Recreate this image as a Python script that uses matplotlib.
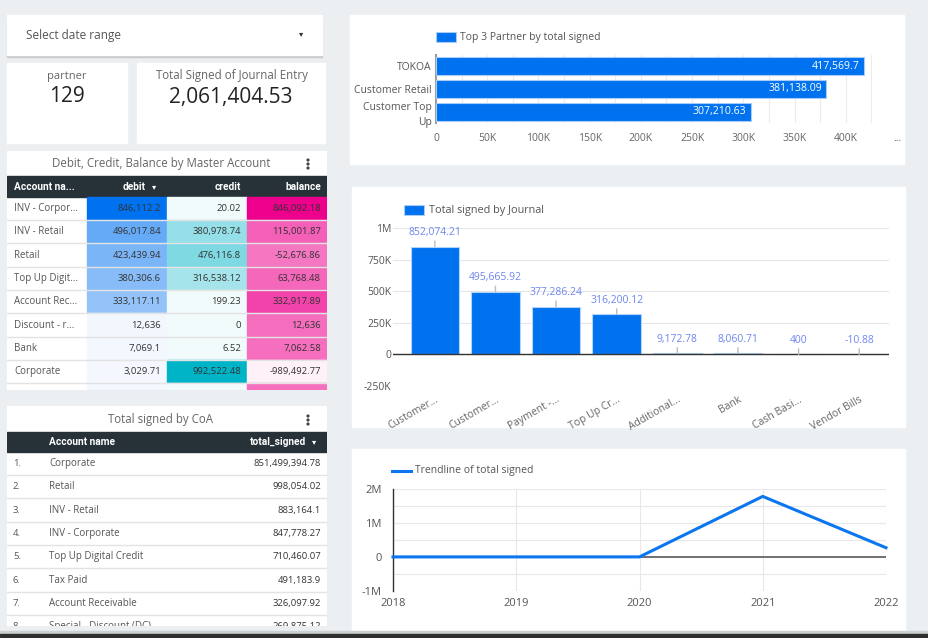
import matplotlib
matplotlib.use("Agg")
import matplotlib.pyplot as plt
from matplotlib.patches import Rectangle, Circle
from matplotlib.colors import LinearSegmentedColormap, Normalize
from matplotlib.ticker import MultipleLocator

plt.rcParams['font.family'] = ['Open Sans', 'DejaVu Sans']

# ---- data ----
partner_count = 129
total_signed = 2061404.53

partners = ["TOKOA", "Customer Retail", "Customer Top\nUp"]
partner_vals = [417569.7, 381138.09, 307210.63]

journals = ["Customer...", "Customer...", "Payment -...", "Top Up Cr...",
            "Additional...", "Bank", "Cash Basi...", "Vendor Bills"]
journal_vals = [852074.21, 495665.92, 377286.24, 316200.12,
                9172.78, 8060.71, 400, -10.88]

years = [2018, 2019, 2020, 2021, 2022]
year_vals = [0, 0, 400, 1790000, 271000]

acct_names = ["INV - Corpor...", "INV - Retail", "Retail", "Top Up Digit...",
              "Account Rec...", "Discount - r...", "Bank", "Corporate", "..."]
debit = [846112.2, 496017.84, 423439.94, 380306.6, 333117.11, 12636, 7069.1, 3029.71, 1000]
credit = [20.02, 380978.74, 476116.8, 316538.12, 199.23, 0, 6.52, 992522.48, 0]
balance = [846092.18, 115001.87, -52676.86, 63768.48, 332917.89, 12636, 7062.58, -989492.77, 1000]

coa_names = ["Corporate", "Retail", "INV - Retail", "INV - Corporate",
             "Top Up Digital Credit", "Tax Paid", "Account Receivable",
             "Special - Discount (DC)"]
coa_vals = [851499394.78, 998054.02, 883164.1, 847778.27,
            710460.07, 491183.9, 326097.92, 269875.12]

BG = "#eceff1"
BLUE = "#0072f0"
HEAD = "#263238"
W, H = 929, 638


def fmt(v):
    s = f"{v:,.2f}".rstrip("0").rstrip(".")
    return s


def kfmt(v):
    if v == 0:
        return "0"
    if abs(v) >= 1e6:
        return f"{v / 1e6:g}M"
    return f"{v / 1e3:g}K"


fig = plt.figure(figsize=(W / 100, H / 100), dpi=100)
fig.patch.set_facecolor(BG)


def panel_axes(x0, y0, x1, y1):
    ax = fig.add_axes([x0 / W, 1 - y1 / H, (x1 - x0) / W, (y1 - y0) / H])
    ax.set_xlim(x0, x1)
    ax.set_ylim(y1, y0)
    ax.axis("off")
    return ax


def chart_axes(x0, y0, x1, y1):
    ax = fig.add_axes([x0 / W, 1 - y1 / H, (x1 - x0) / W, (y1 - y0) / H])
    ax.set_facecolor("none")
    return ax


def kebab(ax, x, y):
    for dy in (-4, 0, 4):
        ax.add_patch(Circle((x, y + dy), 0.9, color="#444"))


# ---- background, cards, panels ----
bg = panel_axes(0, 0, W, H)
bg.add_patch(Rectangle((7, 16.5), 315, 40, color="#c8c9ca"))
bg.add_patch(Rectangle((7, 15), 315, 40, color="white"))
bg.text(26, 35, "Select date range", fontsize=8.5, color="#555", va="center")
bg.text(301, 34, "\u25be", fontsize=6, color="#333", va="center", ha="center",
        family="DejaVu Sans")

bg.add_patch(Rectangle((7, 63), 120, 80, color="white"))
bg.text(67, 76, "partner", fontsize=8, color="#666", ha="center", va="center")
bg.text(67, 97, f"{partner_count}", fontsize=15, color="#222", ha="center", va="center")
bg.add_patch(Rectangle((137, 63), 188, 80, color="white"))
bg.text(232, 76, "Total Signed of Journal Entry", fontsize=8.3, color="#666",
        ha="center", va="center")
bg.text(231, 97, f"{total_signed:,.2f}", fontsize=15, color="#222", ha="center", va="center")

bg.add_patch(Rectangle((350, 15), 554, 149, color="white"))
bg.add_patch(Rectangle((352, 187), 553, 240, color="white"))
bg.add_patch(Rectangle((352, 449), 553, 182, color="white"))
bg.add_patch(Rectangle((0, 631), W, 2.5, color="#cdd0d2"))
bg.add_patch(Rectangle((0, 633.5), W, 5, color="#2e2e2e"))

# legends drawn in panel space
bg.add_patch(Rectangle((436, 32), 20, 10, facecolor=BLUE, edgecolor="#a9cdf9", lw=0.8))
bg.text(460, 37.5, "Top 3 Partner by total signed", fontsize=7.5, color="#555", va="center")
bg.add_patch(Rectangle((404, 205), 20, 10, facecolor=BLUE, edgecolor="#a9cdf9", lw=0.8))
bg.text(429, 210, "Total signed by Journal", fontsize=7.8, color="#555", va="center")
bg.plot([392, 411], [471, 471], color="#0b76ef", lw=2.2)
bg.text(415, 471, "Trendline of total signed", fontsize=7.5, color="#555", va="center")

# ---- table 1: debit / credit / balance ----
t1 = panel_axes(7, 151, 327, 390)
t1.add_patch(Rectangle((7, 151), 320, 239, color="white"))
t1.text(161, 164, "Debit, Credit, Balance by Master Account", ha="center", va="center",
        fontsize=8.3, color="#666")
kebab(t1, 308, 164)
t1.add_patch(Rectangle((7, 176), 320, 20.7, color=HEAD))
hy = 186.5
hfont = dict(color="white", fontsize=7.3, fontweight="bold", family="Roboto", va="center")
t1.text(14, hy, "Account na...", ha="left", **hfont)
t1.text(146, hy, "debit", ha="right", **hfont)
t1.text(154.5, hy, "\u25be", ha="center", va="center", color="white", fontsize=6,
        family="DejaVu Sans")
t1.text(241, hy, "credit", ha="right", **hfont)
t1.text(321, hy, "balance", ha="right", **hfont)

cols = [
    (87, 167, debit, LinearSegmentedColormap.from_list("d", ["#f4f8fe", BLUE]),
     Normalize(min(debit[:8]), max(debit))),
    (167, 247, credit, LinearSegmentedColormap.from_list("c", ["#f2fbfc", "#00b4c8"]),
     Normalize(min(credit), max(credit))),
    (247, 327, balance, LinearSegmentedColormap.from_list("b", ["#fff1f8", "#ec008c"]),
     Normalize(min(balance), max(balance))),
]
row_h = 23.33
y0 = 196.7
for i, name in enumerate(acct_names):
    y = y0 + i * row_h
    for cx0, cx1, vals, cmap, norm in cols:
        t1.add_patch(Rectangle((cx0, y), cx1 - cx0, row_h, color=cmap(norm(vals[i]))))
        t1.text(cx1 - 6, y + row_h / 2, fmt(vals[i]), ha="right", va="center",
                fontsize=6.8, color="#333", clip_on=True)
    t1.text(14, y + row_h / 2, name, ha="left", va="center", fontsize=7,
            color="#555", clip_on=True)
    t1.plot([7, 327], [y + row_h, y + row_h], color="#e3e3e3", lw=1)

# ---- table 2: total signed by CoA ----
t2 = panel_axes(7, 406, 327, 626)
t2.add_patch(Rectangle((7, 406), 320, 220, color="white"))
t2.text(161, 420, "Total signed by CoA", ha="center", va="center", fontsize=8.3, color="#666")
kebab(t2, 308, 420)
t2.add_patch(Rectangle((7, 432.3), 320, 19.4, color=HEAD))
hy = 442
t2.text(49, hy, "Account name", ha="left", **hfont)
t2.text(306, hy, "total_signed", ha="right", **hfont)
t2.text(314.5, hy, "\u25be", ha="center", va="center", color="white", fontsize=6,
        family="DejaVu Sans")
y0 = 451.7
for i, name in enumerate(coa_names):
    y = y0 + i * row_h
    t2.text(13, y + row_h / 2, f"{i + 1}.", ha="left", va="center", fontsize=6.8,
            color="#555", clip_on=True)
    t2.text(49, y + row_h / 2, name, ha="left", va="center", fontsize=7,
            color="#555", clip_on=True)
    t2.text(321, y + row_h / 2, fmt(coa_vals[i]), ha="right", va="center",
            fontsize=6.8, color="#333", clip_on=True)
    t2.plot([7, 327], [y + row_h, y + row_h], color="#e3e3e3", lw=1)

# ---- top 3 partner horizontal bars ----
ax1 = chart_axes(436, 55, 897, 123)
ax1.barh(range(len(partners)), partner_vals, height=0.8, color=BLUE,
         edgecolor="#a9cdf9", lw=0.8, zorder=3)
ax1.set_ylim(len(partners) - 0.5, -0.5)
ax1.set_xlim(0, 450000)
ax1.set_yticks(range(len(partners)))
ax1.set_yticklabels(partners, fontsize=7.5, color="#555", linespacing=1.5)
xt = list(range(0, 450001, 50000))
ax1.set_xticks(xt)
ax1.set_xticklabels([kfmt(v) for v in xt[:-1]] + ["..."], fontsize=7.5, color="#666")
ax1.xaxis.set_minor_locator(MultipleLocator(25000))
ax1.grid(axis="x", which="both", color="#ececec", lw=0.8, zorder=0)
ax1.tick_params(which="both", length=0, pad=3)
ax1.tick_params(axis="x", pad=7)
for s in ["top", "right", "bottom"]:
    ax1.spines[s].set_visible(False)
ax1.spines["left"].set_color("#9e9e9e")
ax1.spines["left"].set_linewidth(1.5)
for i, v in enumerate(partner_vals):
    ax1.annotate(fmt(v), (v, i), xytext=(-3, 0), textcoords="offset points",
                 ha="right", va="center", color="white", fontsize=7.6, zorder=4)

# ---- total signed by journal ----
ax2 = chart_axes(393, 228, 889.5, 386)
xs = range(len(journals))
ax2.bar(xs, journal_vals, width=0.8, color=BLUE, edgecolor="#b3d4fb", lw=0.8, zorder=3)
ax2.set_xlim(-0.69, 7.5)
ax2.set_ylim(-250000, 1000000)
yt = list(range(-250000, 1000001, 250000))
ax2.set_yticks(yt)
ax2.set_yticklabels([kfmt(v) for v in yt], fontsize=7.5, color="#555")
ax2.set_xticks(list(xs))
ax2.set_xticklabels(journals, rotation=30, ha="right", rotation_mode="anchor",
                    fontsize=7.5, color="#666")
ax2.grid(axis="y", color="#e6e6e6", lw=0.8, zorder=0)
ax2.axhline(0, color="#333", lw=1, zorder=4)
ax2.tick_params(length=0)
ax2.tick_params(axis="y", pad=1)
ax2.tick_params(axis="x", pad=6)
for s in ax2.spines.values():
    s.set_visible(False)
for i, v in enumerate(journal_vals):
    ax2.annotate(fmt(v), (i, max(v, 0)), xytext=(0, 10), textcoords="offset points",
                 ha="center", va="center", color="#6e86f0", fontsize=7.5, zorder=5,
                 arrowprops=dict(arrowstyle="-", color="#bdbdbd", lw=1,
                                 shrinkA=0, shrinkB=0))

# ---- trendline ----
ax3 = chart_axes(393, 489.3, 886, 590.7)
ax3.plot(years, year_vals, color="#0b76ef", lw=2.2, zorder=4, clip_on=False)
ax3.set_xlim(2018, 2022)
ax3.set_ylim(-1000000, 2000000)
ax3.set_xticks(years)
ax3.set_xticklabels([str(y) for y in years], fontsize=8, color="#555")
yt3 = [-1000000, 0, 1000000, 2000000]
ax3.set_yticks(yt3)
ax3.set_yticklabels([kfmt(v) for v in yt3], fontsize=8, color="#555")
ax3.yaxis.set_minor_locator(MultipleLocator(500000))
ax3.grid(which="both", color="#e8e8e8", lw=0.8, zorder=0)
ax3.axhline(0, color="#666", lw=1.3, zorder=3)
ax3.tick_params(which="both", length=0)
ax3.tick_params(axis="y", pad=8)
ax3.tick_params(axis="x", pad=5)
for s in ["top", "right", "bottom"]:
    ax3.spines[s].set_visible(False)
ax3.spines["left"].set_color("#333")
ax3.spines["left"].set_linewidth(1)

fig.savefig("out.png", dpi=100, facecolor=BG)
